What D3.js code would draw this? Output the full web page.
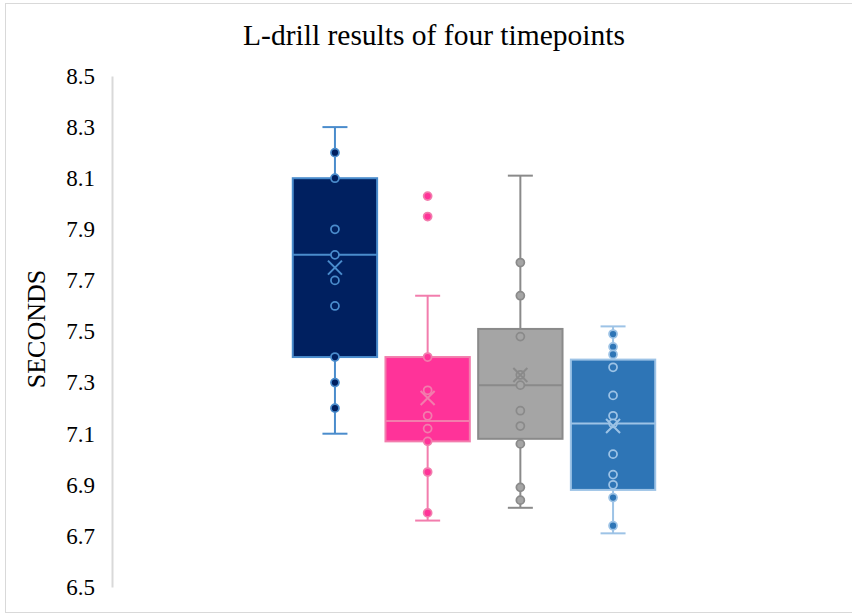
<!DOCTYPE html>
<html>
<head>
<meta charset="utf-8">
<script src="https://cdn.jsdelivr.net/npm/d3@7"></script>
<style>
  html, body { margin: 0; padding: 0; background: #fff; }
  svg { display: block; }
  text { font-family: "Liberation Serif", "Times New Roman", serif; fill: #000; }
</style>
</head>
<body>
<svg id="chart" width="852" height="615"></svg>
<script>
// Box-plot summary for each timepoint
const timepoints  = ["T1", "T2", "T3", "T4"];
const whiskerLow  = [7.10, 6.76, 6.81, 6.71];
const q1          = [7.40, 7.07, 7.08, 6.88];
const median      = [7.80, 7.15, 7.29, 7.14];
const q3          = [8.10, 7.40, 7.51, 7.39];
const whiskerHigh = [8.30, 7.64, 8.11, 7.52];
const means       = [7.75, 7.24, 7.33, 7.13];

// Individual observations drawn as markers
const pointsT1 = [8.20, 8.10, 7.90, 7.80, 7.70, 7.60, 7.40, 7.30, 7.20];
const pointsT2 = [8.03, 7.95, 7.40, 7.27, 7.17, 7.12, 7.07, 6.95, 6.79];
const pointsT3 = [7.77, 7.64, 7.48, 7.33, 7.29, 7.19, 7.13, 7.06, 6.89, 6.84];
const pointsT4 = [7.49, 7.44, 7.41, 7.36, 7.25, 7.17, 7.14, 7.02, 6.94, 6.90, 6.85, 6.74];
const points = [pointsT1, pointsT2, pointsT3, pointsT4];

// Axis ticks
const yTicks = [6.5, 6.7, 6.9, 7.1, 7.3, 7.5, 7.7, 7.9, 8.1, 8.3, 8.5];

// Series colours
const fillColors = ["#002060", "#ff3399", "#a5a5a5", "#2e75b6"];
const lineColors = ["#4a8ccc", "#f27dad", "#8a8a8a", "#9dc3e6"];

const svg = d3.select("#chart");

// Outer chart frame
svg.append("rect")
  .attr("x", 5.5).attr("y", 3.5)
  .attr("width", 860).attr("height", 609)
  .attr("fill", "none").attr("stroke", "#d9d9d9").attr("stroke-width", 1);

const y = d3.scaleLinear().domain([6.5, 8.5]).range([587, 76]);
const x = d3.scaleBand().domain(timepoints)
  .range([288.6, 659.4]).paddingInner(0.09).paddingOuter(0.045);

// Title
svg.append("text")
  .attr("x", 434).attr("y", 45)
  .attr("text-anchor", "middle")
  .style("font-size", "29.5px")
  .text("L-drill results of four timepoints");

// Y axis
const axisG = svg.append("g")
  .attr("transform", "translate(112,0)")
  .call(d3.axisLeft(y).tickValues(yTicks).tickSize(0).tickPadding(17)
        .tickFormat(d3.format(".1f")));
axisG.select(".domain").attr("stroke", "#d9d9d9").attr("stroke-width", 2);
axisG.selectAll(".tick text")
  .style("font-family", "'Liberation Serif', 'Times New Roman', serif")
  .style("font-size", "23px")
  .attr("fill", "#000");

// Y axis title
svg.append("text")
  .attr("transform", "translate(45,329) rotate(-90)")
  .attr("text-anchor", "middle")
  .style("font-size", "26px")
  .text("SECONDS");

// Boxes
const g = svg.append("g");
timepoints.forEach((t, i) => {
  const x0 = x(t), w = x.bandwidth(), cx = x0 + w / 2;
  const fill = fillColors[i], line = lineColors[i];
  const s = g.append("g");

  // Whisker stems
  s.append("line").attr("x1", cx).attr("x2", cx)
    .attr("y1", y(whiskerHigh[i])).attr("y2", y(q3[i]))
    .attr("stroke", line).attr("stroke-width", 2);
  s.append("line").attr("x1", cx).attr("x2", cx)
    .attr("y1", y(q1[i])).attr("y2", y(whiskerLow[i]))
    .attr("stroke", line).attr("stroke-width", 2);
  // Whisker caps
  [whiskerHigh[i], whiskerLow[i]].forEach(v => {
    s.append("line").attr("x1", cx - 12.5).attr("x2", cx + 12.5)
      .attr("y1", y(v)).attr("y2", y(v))
      .attr("stroke", line).attr("stroke-width", 2);
  });

  // Box
  s.append("rect")
    .attr("x", x0).attr("width", w)
    .attr("y", y(q3[i])).attr("height", y(q1[i]) - y(q3[i]))
    .attr("fill", fill).attr("stroke", line).attr("stroke-width", 2);

  // Median
  s.append("line").attr("x1", x0).attr("x2", x0 + w)
    .attr("y1", y(median[i])).attr("y2", y(median[i]))
    .attr("stroke", line).attr("stroke-width", 2);

  // Observations
  s.selectAll("circle").data(points[i]).join("circle")
    .attr("cx", cx).attr("cy", d => y(d)).attr("r", 4)
    .attr("fill", fill).attr("stroke", line).attr("stroke-width", 1.75);

  // Mean marker
  const m = y(means[i]), r = 7;
  s.append("path")
    .attr("d", `M${cx - r},${m - r}L${cx + r},${m + r}M${cx - r},${m + r}L${cx + r},${m - r}`)
    .attr("stroke", line).attr("stroke-width", 2).attr("fill", "none");
});
</script>
</body>
</html>
